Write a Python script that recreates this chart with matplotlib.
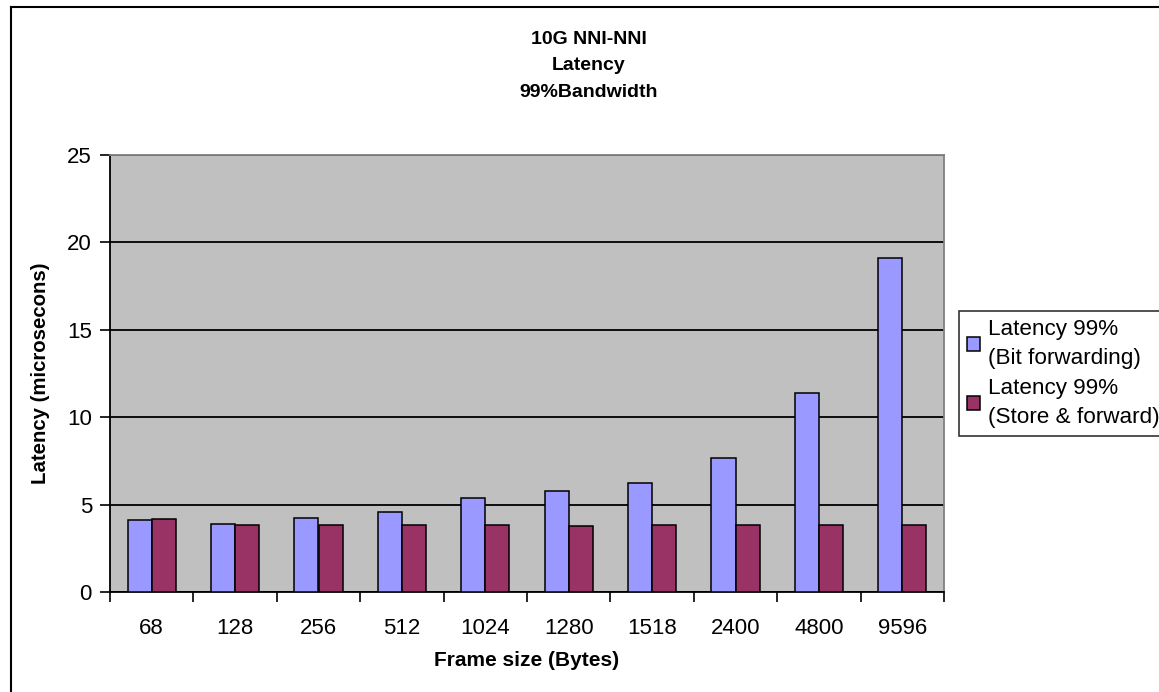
import matplotlib
matplotlib.use('Agg')
import matplotlib.pyplot as plt
from matplotlib.lines import Line2D
import numpy as np

plt.rcParams['font.family'] = ['Liberation Sans', 'DejaVu Sans']

# Data
frame_sizes = ['68', '128', '256', '512', '1024', '1280', '1518', '2400', '4800', '9596']
bit_forwarding = [4.1, 3.9, 4.25, 4.55, 5.4, 5.8, 6.25, 7.65, 11.4, 19.1]
store_forward = [4.15, 3.85, 3.85, 3.85, 3.85, 3.75, 3.85, 3.85, 3.85, 3.85]
series_labels = ['Latency 99%\n(Bit forwarding)', 'Latency 99%\n(Store & forward)']

W, H = 1159, 692
fig = plt.figure(figsize=(W / 100, H / 100), dpi=100)
fig.patch.set_facecolor('white')

# axes placed in pixel terms of the reference
left, right, top, bottom = 110, 944, 155, 592
ax = fig.add_axes([left / W, 1 - bottom / H, (right - left) / W, (bottom - top) / H])
ax.set_facecolor('#C0C0C0')

x = np.arange(len(frame_sizes))
bw = 0.29
ax.bar(x - bw / 2, bit_forwarding, bw, color='#9999FF', edgecolor='black', linewidth=1.1,
       label=series_labels[0], zorder=3)
ax.bar(x + bw / 2, store_forward, bw, color='#993366', edgecolor='black', linewidth=1.1,
       label=series_labels[1], zorder=3)

ax.set_xlim(-0.5, len(frame_sizes) - 0.5)
ax.set_ylim(0, 25)
ax.set_yticks([0, 5, 10, 15, 20, 25])
ax.yaxis.grid(True, color='black', linewidth=1.3, zorder=1)
ax.set_axisbelow(True)

ax.set_xticks(x)
ax.set_xticklabels(frame_sizes)
ax.set_xticks(np.arange(-0.5, len(frame_sizes)), minor=True)
ax.tick_params(axis='x', which='major', length=0, pad=19, labelsize=16)
ax.tick_params(axis='x', which='minor', length=7, width=1.2, direction='out')
ax.tick_params(axis='y', length=7, width=1.2, direction='out', pad=6, labelsize=16)

for s in ['left', 'bottom']:
    ax.spines[s].set_color('black')
    ax.spines[s].set_linewidth(1.3)
for s in ['top', 'right']:
    ax.spines[s].set_color('#808080')
    ax.spines[s].set_linewidth(1.3)

ax.set_ylabel('Latency (microsecons)', fontsize=14.7, fontweight='bold', labelpad=12)
ax.set_xlabel('Frame size (Bytes)', fontsize=15, fontweight='bold', labelpad=8)

fig.text(589 / W, 1 - 66 / H, '10G NNI-NNI\nLatency\n99%Bandwidth', ha='center', va='center',
         fontsize=14, fontweight='bold', linespacing=1.7)

leg = fig.legend(loc='upper left', bbox_to_anchor=(959 / W, 1 - 311 / H), fontsize=16.2,
                 frameon=True, fancybox=False, shadow=False, handlelength=0.6, handleheight=0.6,
                 handletextpad=0.35, borderpad=0.35, labelspacing=0.4, borderaxespad=0)
leg.get_frame().set_edgecolor('black')
leg.get_frame().set_linewidth(1.2)
for t in leg.get_texts():
    t.set_linespacing(1.5)

# outer chart border (left and top edges visible in the reference)
fig.add_artist(Line2D([11 / W, 11 / W], [0, 1 - 7 / H], color='black', linewidth=1.5))
fig.add_artist(Line2D([11 / W, 1], [1 - 7 / H, 1 - 7 / H], color='black', linewidth=1.5))

fig.savefig('out.png', dpi=100, facecolor='white')
